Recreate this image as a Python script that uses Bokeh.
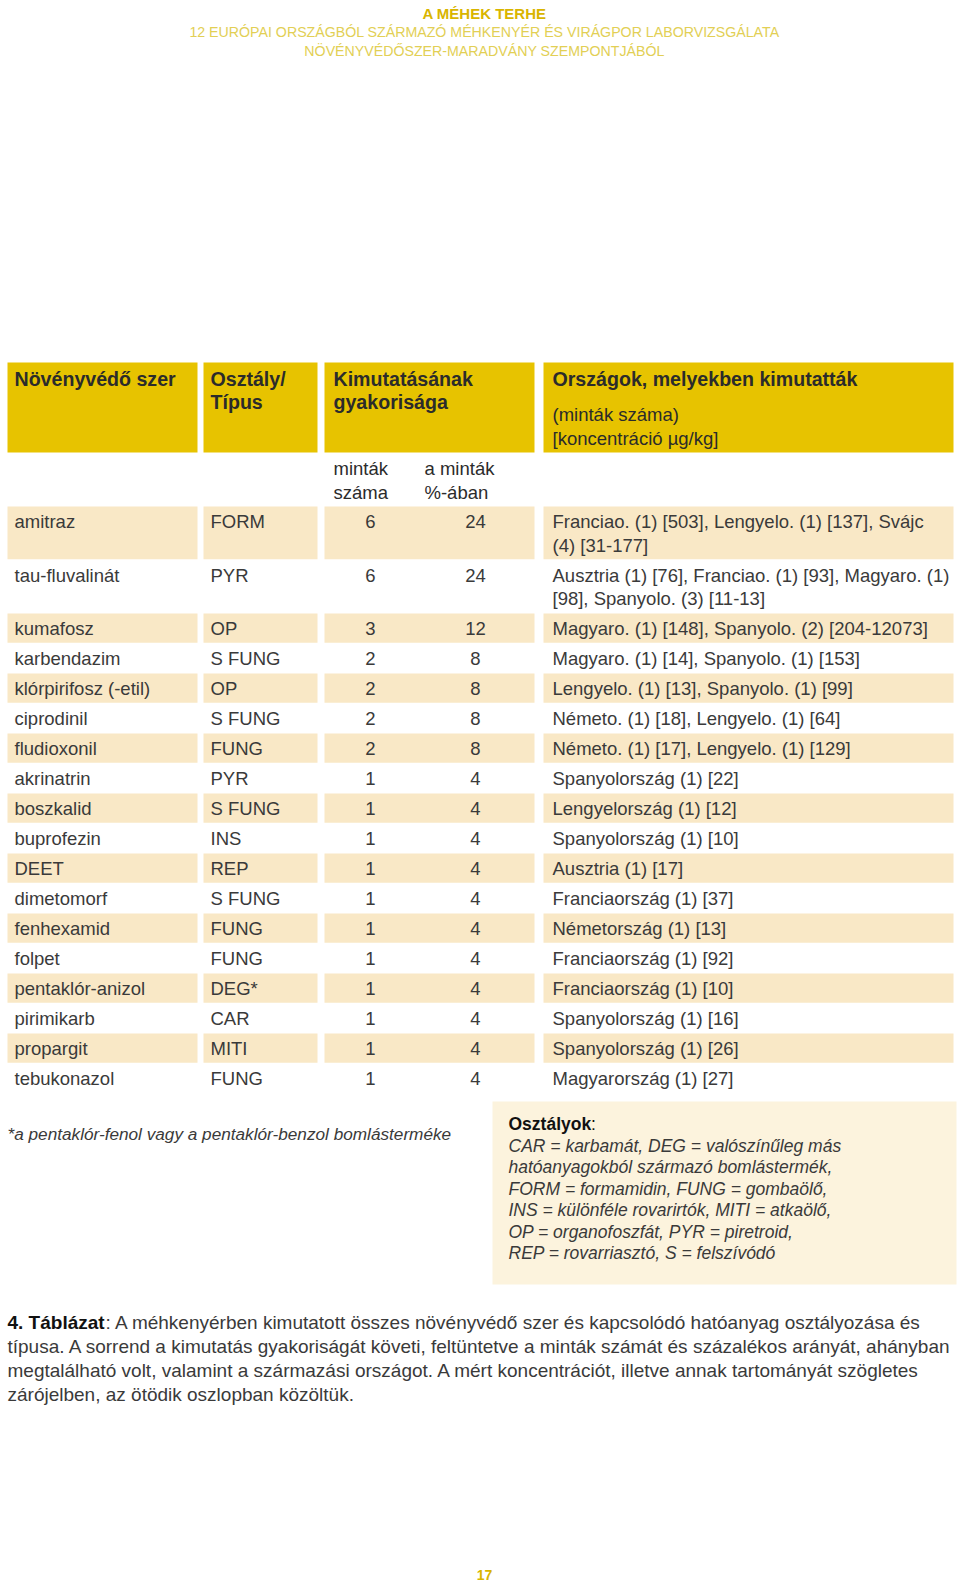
from bokeh.plotting import figure
from bokeh.models import Range1d
from bokeh.embed import file_html
from bokeh.resources import INLINE
from bokeh.core.properties import value

# ---------------- data ----------------
pesticides = ["amitraz", "tau-fluvalinát", "kumafosz", "karbendazim", "klórpirifosz (-etil)",
              "ciprodinil", "fludioxonil", "akrinatrin", "boszkalid", "buprofezin", "DEET",
              "dimetomorf", "fenhexamid", "folpet", "pentaklór-anizol", "pirimikarb",
              "propargit", "tebukonazol"]
classes = ["FORM", "PYR", "OP", "S FUNG", "OP", "S FUNG", "FUNG", "PYR", "S FUNG", "INS", "REP",
           "S FUNG", "FUNG", "FUNG", "DEG*", "CAR", "MITI", "FUNG"]
n_samples = [6, 6, 3, 2, 2, 2, 2, 1, 1, 1, 1, 1, 1, 1, 1, 1, 1, 1]
pct_samples = [24, 24, 12, 8, 8, 8, 8, 4, 4, 4, 4, 4, 4, 4, 4, 4, 4, 4]
countries = [
    ["Franciao. (1) [503], Lengyelo. (1) [137], Svájc", "(4) [31-177]"],
    ["Ausztria (1) [76], Franciao. (1) [93], Magyaro. (1)", "[98], Spanyolo. (3) [11-13]"],
    ["Magyaro. (1) [148], Spanyolo. (2) [204-12073]"],
    ["Magyaro. (1) [14], Spanyolo. (1) [153]"],
    ["Lengyelo. (1) [13], Spanyolo. (1) [99]"],
    ["Németo. (1) [18], Lengyelo. (1) [64]"],
    ["Németo. (1) [17], Lengyelo. (1) [129]"],
    ["Spanyolország (1) [22]"],
    ["Lengyelország (1) [12]"],
    ["Spanyolország (1) [10]"],
    ["Ausztria (1) [17]"],
    ["Franciaország (1) [37]"],
    ["Németország (1) [13]"],
    ["Franciaország (1) [92]"],
    ["Franciaország (1) [10]"],
    ["Spanyolország (1) [16]"],
    ["Spanyolország (1) [26]"],
    ["Magyarország (1) [27]"],
]

title = "A MÉHEK TERHE"
subtitle = ["12 EURÓPAI ORSZÁGBÓL SZÁRMAZÓ MÉHKENYÉR ÉS VIRÁGPOR LABORVIZSGÁLATA",
            "NÖVÉNYVÉDŐSZER-MARADVÁNY SZEMPONTJÁBÓL"]
col_headers = [["Növényvédő szer"], ["Osztály/", "Típus"], ["Kimutatásának", "gyakorisága"],
               ["Országok, melyekben kimutatták"]]
col4_sub = ["(minták száma)", "[koncentráció µg/kg]"]
sub_n = ["minták", "száma"]
sub_pct = ["a minták", "%-ában"]
footnote = "*a pentaklór-fenol vagy a pentaklór-benzol bomlásterméke"
legend_title = "Osztályok"
legend_lines = ["CAR = karbamát, DEG = valószínűleg más",
                "hatóanyagokból származó bomlástermék,",
                "FORM = formamidin, FUNG = gombaölő,",
                "INS = különféle rovarirtók, MITI = atkaölő,",
                "OP = organofoszfát, PYR = piretroid,",
                "REP = rovarriasztó, S = felszívódó"]
caption_bold = "4. Táblázat"
caption_lines = [": A méhkenyérben kimutatott összes növényvédő szer és kapcsolódó hatóanyag osztályozása és",
                 "típusa. A sorrend a kimutatás gyakoriságát követi, feltüntetve a minták számát és százalékos arányát, ahányban",
                 "megtalálható volt, valamint a származási országot. A mért koncentrációt, illetve annak tartományát szögletes",
                 "zárójelben, az ötödik oszlopban közöltük."]
page_no = "17"

# ---------------- layout / style ----------------
FONT = "Liberation Sans"
GOLD = "#e7c300"
SHADE = "#f9e8c6"
LEGBG = "#fcf3dd"
DARK = "#2b2b2b"
BODY = "#3a3a3a"

W, H = 960, 1584
p = figure(width=W, height=H, x_range=Range1d(0, W), y_range=Range1d(H, 0),
           output_backend="svg", toolbar_location=None, x_axis_type=None, y_axis_type=None,
           min_border=0)
p.grid.visible = False
p.outline_line_color = None
p.background_fill_color = "white"
p.border_fill_color = "white"


def txt(xs, ys, texts, size, style="normal", color=BODY, align="left"):
    p.text(x=xs, y=ys, text=texts, text_font=value(FONT), text_font_size=value(f"{size}px"),
           text_font_style=style, text_color=color, text_align=align, text_baseline="middle")


cols = [(7, 197), (203, 317), (324, 534), (543, 953)]
HEAD_TOP, HEAD_BOT = 362, 452
ROW0 = 506
H1, LINE = 30, 23.5
BS = 18.5  # body size

# header boxes
p.quad(left=[c[0] for c in cols], right=[c[1] for c in cols],
       top=[HEAD_TOP] * 4, bottom=[HEAD_BOT] * 4, fill_color=GOLD, line_color=None)

# header titles
hx = [14, 210, 333, 552]
for i, lines in enumerate(col_headers):
    txt([hx[i]] * len(lines), [378 + 23.5 * k for k in range(len(lines))], lines, 19.6, "bold", DARK)
txt([552, 552], [414, 438], col4_sub, BS, "normal", DARK)
txt([333, 333], [468, 492], sub_n, BS, "normal", DARK)
txt([424, 424], [468, 492], sub_pct, BS, "normal", DARK)

# rows
tops, heights = [], []
y = ROW0
for c in countries:
    h = H1 + LINE * (len(c) - 1)
    tops.append(y)
    heights.append(h)
    y += h

shade_idx = [i for i in range(len(pesticides)) if i % 2 == 0]
for (l, r) in cols:
    p.quad(left=[l] * len(shade_idx), right=[r] * len(shade_idx),
           top=[tops[i] for i in shade_idx], bottom=[tops[i] + heights[i] - 0.7 for i in shade_idx],
           fill_color=SHADE, line_color=None)

ty = [t + 15 for t in tops]
txt([14] * len(pesticides), ty, pesticides, BS)
txt([210] * len(classes), ty, classes, BS)
txt([370] * len(n_samples), ty, [str(v) for v in n_samples], BS, align="center")
txt([475] * len(pct_samples), ty, [str(v) for v in pct_samples], BS, align="center")
cx, cy, ct = [], [], []
for i, c in enumerate(countries):
    for k, line in enumerate(c):
        cx.append(552)
        cy.append(tops[i] + 15 + LINE * k)
        ct.append(line)
txt(cx, cy, ct, BS)

# title block
txt([484], [12.5], [title], 15, "bold", "#d9b500", "center")
txt([484, 484], [31.5, 50.5], subtitle, 14.2, "normal", "#e2cf55", "center")

# footnote
txt([7], [1133], [footnote], 17.2, "italic", BODY)

# legend box
p.quad(left=[492], right=[956], top=[1101], bottom=[1284], fill_color=LEGBG, line_color=None)
txt([508], [1123], [legend_title], 17.5, "bold", "#111111")
txt([508 + 82.5], [1123], [":"], 17.5, "normal", "#111111")
txt([508] * len(legend_lines), [1145 + 21.5 * k for k in range(len(legend_lines))],
    legend_lines, 17.5, "italic", BODY)

# caption
CS = 19
txt([7], [1322], [caption_bold], CS, "bold", "#111111")
txt([7 + 98] + [7] * 3, [1322 + 24 * k for k in range(4)], caption_lines, CS, "normal", BODY)

# page number
txt([484], [1574], [page_no], 14, "bold", "#d9b500", "center")

open("out.html", "w").write(file_html(p, INLINE))
